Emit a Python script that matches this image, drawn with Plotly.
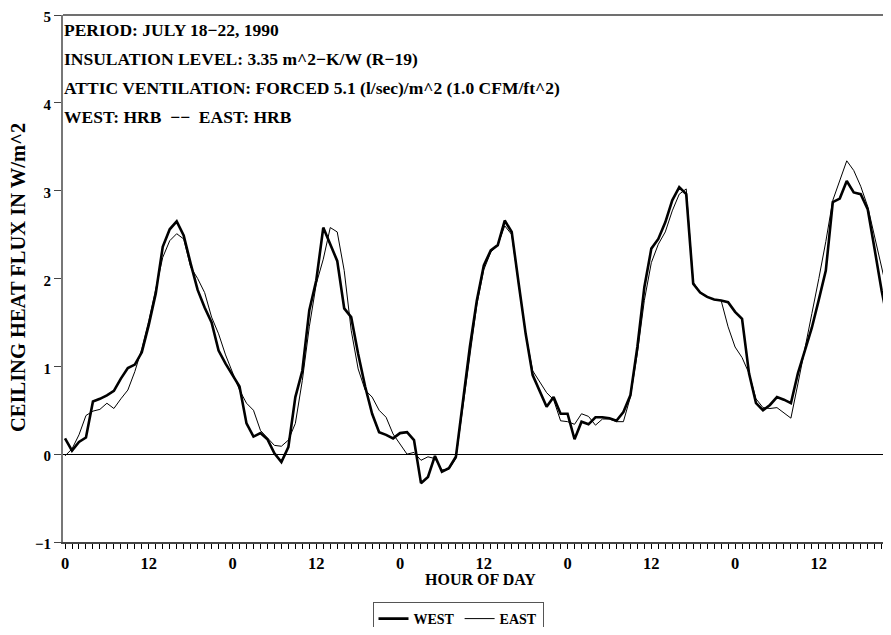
import plotly.graph_objects as go

hours = list(range(0, 120))

west = [0.18, 0.04, 0.14, 0.19, 0.60, 0.63, 0.67, 0.72, 0.86, 0.98,
        1.02, 1.16, 1.47, 1.83, 2.36, 2.56, 2.65, 2.49, 2.17, 1.87,
        1.67, 1.50, 1.18, 1.03, 0.90, 0.77, 0.35, 0.20, 0.24, 0.17,
        0.01, -0.09, 0.08, 0.65, 0.95, 1.64, 1.98, 2.58, 2.39, 2.20,
        1.66, 1.56, 1.14, 0.77, 0.46, 0.25, 0.22, 0.18, 0.24, 0.25,
        0.16, -0.33, -0.26, -0.02, -0.20, -0.16, -0.03, 0.61, 1.22, 1.75,
        2.15, 2.32, 2.38, 2.66, 2.53, 1.94, 1.37, 0.90, 0.71, 0.54,
        0.65, 0.46, 0.46, 0.17, 0.37, 0.34, 0.42, 0.42, 0.41, 0.38,
        0.48, 0.67, 1.22, 1.90, 2.34, 2.45, 2.64, 2.89, 3.04, 2.96,
        1.94, 1.84, 1.79, 1.76, 1.75, 1.73, 1.62, 1.54, 0.92, 0.58,
        0.50, 0.56, 0.65, 0.62, 0.58, 0.92, 1.18, 1.44, 1.76, 2.09,
        2.87, 2.91, 3.11, 2.98, 2.96, 2.79, 2.33, 1.86, 1.47, 0.95]

east = [-0.02, 0.06, 0.22, 0.44, 0.49, 0.51, 0.58, 0.52, 0.63, 0.73,
        0.94, 1.20, 1.52, 1.90, 2.24, 2.43, 2.51, 2.45, 2.13, 2.00,
        1.84, 1.56, 1.37, 1.13, 0.92, 0.73, 0.58, 0.50, 0.27, 0.18,
        0.10, 0.09, 0.16, 0.35, 0.84, 1.45, 1.94, 2.22, 2.58, 2.53,
        2.09, 1.41, 0.97, 0.73, 0.65, 0.50, 0.42, 0.23, 0.12, 0.00,
        0.02, -0.07, -0.03, -0.05, -0.18, -0.17, -0.05, 0.55, 1.15, 1.70,
        2.10, 2.30, 2.38, 2.60, 2.50, 1.94, 1.37, 0.95, 0.82, 0.70,
        0.62, 0.38, 0.37, 0.34, 0.46, 0.43, 0.33, 0.40, 0.40, 0.37,
        0.37, 0.65, 1.15, 1.75, 2.18, 2.39, 2.53, 2.77, 2.96, 3.02,
        1.96, 1.84, 1.79, 1.76, 1.75, 1.45, 1.22, 1.10, 0.92, 0.63,
        0.53, 0.52, 0.53, 0.47, 0.41, 0.80, 1.22, 1.60, 2.00, 2.42,
        2.89, 3.11, 3.34, 3.23, 3.05, 2.82, 2.47, 2.11, 1.78, 1.20]

tick_hours = list(range(0, 119))
tick_text = [str(h % 24) if h % 12 == 0 else "" for h in tick_hours]
y_ticks = [-1, 0, 1, 2, 3, 4, 5]

info_lines = [
    "PERIOD: JULY 18−22, 1990",
    "INSULATION LEVEL: 3.35 m^2−K/W (R−19)",
    "ATTIC VENTILATION: FORCED 5.1 (l/sec)/m^2 (1.0 CFM/ft^2)",
    "WEST: HRB  −−  EAST: HRB",
]

FONT = "Liberation Serif"

def bfont(size):
    return dict(family=FONT, size=size, color="black", weight="bold")

fig = go.Figure()
fig.add_trace(go.Scatter(x=hours, y=west, mode="lines", name="WEST",
                         line=dict(color="black", width=2.6)))
fig.add_trace(go.Scatter(x=hours, y=east, mode="lines", name="EAST",
                         line=dict(color="black", width=1)))

# the page body adds an 8px offset on every side
OFF = 8
W, H = 891 - OFF, 635 - 2 * OFF
L, T = 63 - OFF, 15 - OFF
R = 0
B = H - (542 - OFF)
pw = W - L - R
ph = H - T - B

def px_to_paper_y(py):
    return 1 - (py - OFF - T) / ph

def px_to_paper_x(px):
    return (px - OFF - L) / pw

annotations = []
for txt, py in zip(info_lines, [30, 59, 88, 117]):
    annotations.append(dict(
        text=txt, xref="paper", yref="paper", x=0, y=px_to_paper_y(py),
        xanchor="left", yanchor="middle", showarrow=False,
        font=bfont(17.5), xshift=-1))

annotations.append(dict(
    text="HOUR OF DAY", xref="paper", yref="paper",
    x=px_to_paper_x(480), y=px_to_paper_y(579),
    xanchor="center", yanchor="middle", showarrow=False,
    font=bfont(16)))

annotations.append(dict(
    text="CEILING HEAT FLUX IN W/m^2", xref="paper", yref="paper",
    x=px_to_paper_x(18), y=px_to_paper_y(278), textangle=-90,
    xanchor="center", yanchor="middle", showarrow=False,
    font=bfont(20.5)))

fig.update_layout(
    width=W, height=H,
    margin=dict(l=L, r=R, t=T, b=B, pad=0, autoexpand=False),
    plot_bgcolor="white", paper_bgcolor="white",
    font=dict(family=FONT, size=16, color="black"),
    showlegend=True,
    legend=dict(orientation="h", x=px_to_paper_x(458), xanchor="center",
                y=px_to_paper_y(602), yanchor="top",
                bordercolor="#555555", borderwidth=1,
                font=bfont(14), itemwidth=30, tracegroupgap=0),
    annotations=annotations,
    xaxis=dict(range=[-0.29, 118.34], tickmode="array", tickvals=tick_hours,
               ticktext=tick_text, ticks="outside", ticklen=5, tickwidth=1,
               tickcolor="black", showgrid=False, zeroline=False,
               showline=True, linecolor="#444444", linewidth=1.5,
               ticklabeloverflow="allow", tickfont=bfont(16.5)),
    yaxis=dict(range=[-1, 5], tickmode="array", tickvals=y_ticks,
               ticks="outside", ticklen=7, tickwidth=1, tickcolor="#444444",
               showgrid=False, zeroline=True, zerolinecolor="black",
               zerolinewidth=1, showline=True, linecolor="#777777",
               linewidth=2, ticklabeloverflow="allow", ticklabelshift=2,
               tickfont=bfont(15)),
    shapes=[dict(type="line", xref="paper", yref="paper", x0=0, x1=1,
                 y0=1, y1=1, line=dict(color="#707070", width=2))],
)

fig.write_html("out.html")
